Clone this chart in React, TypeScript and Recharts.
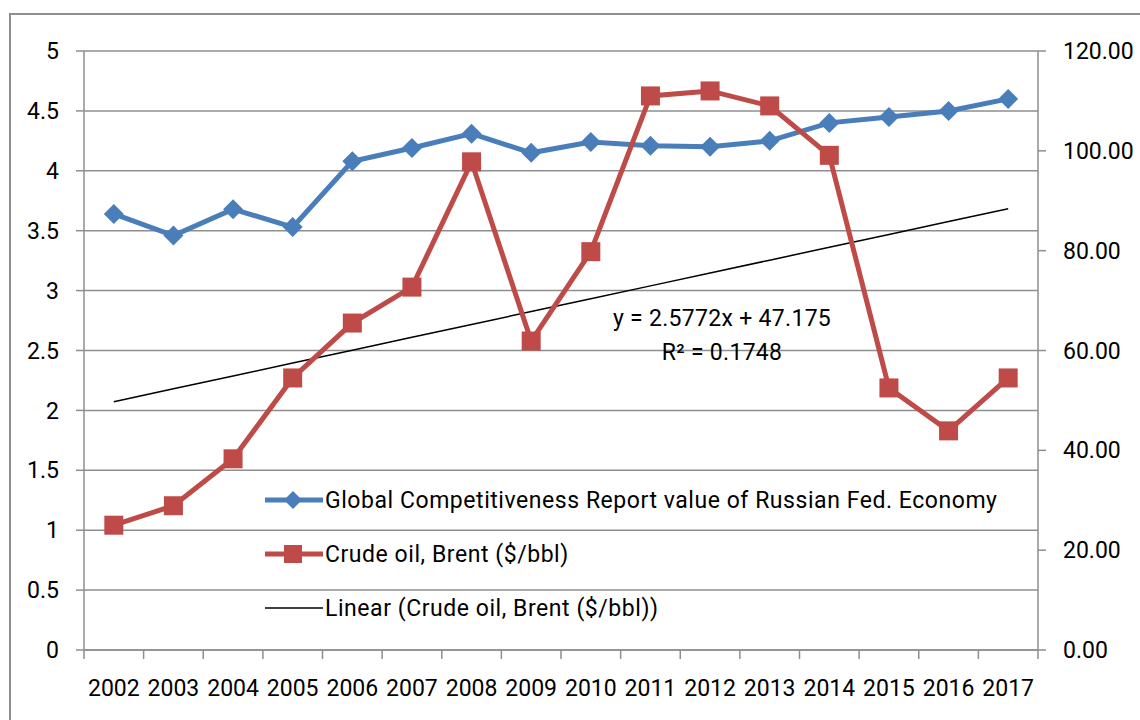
import { CartesianGrid, Line, LineChart, XAxis, YAxis } from "recharts";

const YEARS = ["2002", "2003", "2004", "2005", "2006", "2007", "2008", "2009", "2010", "2011", "2012", "2013", "2014", "2015", "2016", "2017"];
// Global Competitiveness Report value (left axis)
const GCI = [3.64, 3.46, 3.68, 3.53, 4.08, 4.19, 4.31, 4.15, 4.24, 4.21, 4.2, 4.25, 4.4, 4.45, 4.5, 4.6];
// Crude oil, Brent $/bbl (right axis)
const BRENT = [25.0, 28.9, 38.3, 54.5, 65.5, 72.7, 97.8, 61.9, 79.8, 111.0, 112.0, 109.0, 99.1, 52.5, 43.9, 54.5];
// trendline as printed on the chart
const TREND_SLOPE = 2.5772;
const TREND_INTERCEPT = 47.175;
const LEFT_TICKS = [0, 0.5, 1, 1.5, 2, 2.5, 3, 3.5, 4, 4.5, 5];
const RIGHT_TICKS = [0, 20, 40, 60, 80, 100, 120];

const BLUE = "#4a7ebb";
const RED = "#be4b48";
const GRID = "#8e8e8e";
const FONT = "Roboto, 'Open Sans', sans-serif";
const FS = 23;

const data = YEARS.map((year, i) => ({
  year,
  pos: i + 0.5,
  gci: GCI[i],
  brent: BRENT[i],
  trend: TREND_INTERCEPT + TREND_SLOPE * (i + 1),
}));
const X_TICKS = YEARS.map((_, i) => i).concat([YEARS.length]);

// recharts overrides r/fill on cloned dots, so use own prop names
function Diamond({ cx, cy, half = 10 }: any) {
  if (cx == null || cy == null) return null;
  return <polygon points={`${cx},${cy - half} ${cx + half},${cy} ${cx},${cy + half} ${cx - half},${cy}`} fill={BLUE} />;
}

function Square({ cx, cy, side = 19 }: any) {
  if (cx == null || cy == null) return null;
  return <rect x={cx - side / 2} y={cy - side / 2} width={side} height={side} fill={RED} />;
}

function YearTick({ x, y, payload, width }: any) {
  const i = payload.value;
  if (i >= YEARS.length) return null;
  const step = (width || 954) / YEARS.length;
  return (
    <text x={x + step / 2} y={y + 35} textAnchor="middle" fill="#000" fontSize={FS} fontFamily={FONT}>
      {YEARS[i]}
    </text>
  );
}

const LEGEND = [
  { name: "Global Competitiveness Report value of Russian Fed. Economy", color: BLUE, width: 5, mark: "diamond" },
  { name: "Crude oil, Brent ($/bbl)", color: RED, width: 5, mark: "square" },
  { name: "Linear (Crude oil, Brent ($/bbl))", color: "#000", width: 1.5, mark: "none" },
];

function LegendBox() {
  return (
    <div
      style={{
        position: "absolute",
        left: 264,
        top: 473,
        fontFamily: FONT,
        fontSize: FS,
        letterSpacing: 0.55,
        color: "#000",
      }}
    >
      {LEGEND.map((l) => (
        <div key={l.name} style={{ display: "flex", alignItems: "center", height: 54, whiteSpace: "nowrap" }}>
          <svg width={60} height={24} style={{ marginRight: 1 }}>
            <line x1={1} x2={59} y1={12} y2={12} stroke={l.color} strokeWidth={l.width} />
            {l.mark === "diamond" && <Diamond cx={29} cy={12} half={9} />}
            {l.mark === "square" && <Square cx={29} cy={12} side={18} />}
          </svg>
          <span>{l.name}</span>
        </div>
      ))}
    </div>
  );
}

export default function App() {
  return (
    <div style={{ position: "absolute", left: 0, top: 0, width: 1140, height: 720, overflow: "hidden", background: "#fff" }}>
      <div style={{ position: "absolute", left: 9, top: 13, width: 1300, height: 900, border: `2px solid ${GRID}` }} />
      <LineChart
        width={1140}
        height={720}
        data={data}
        margin={{ top: 51, right: 12, bottom: 20, left: 14 }}
        style={{ position: "absolute", left: 0, top: 0 }}
      >
        <CartesianGrid yAxisId="left" xAxisId="x" vertical={false} stroke={GRID} strokeWidth={1.5} />
        <XAxis
          xAxisId="x"
          type="number"
          dataKey="pos"
          domain={[0, YEARS.length]}
          ticks={X_TICKS}
          interval={0}
          height={50}
          tick={<YearTick />}
          tickSize={9}
          tickLine={{ stroke: GRID, strokeWidth: 1.5 }}
          axisLine={{ stroke: GRID, strokeWidth: 1.5 }}
          allowDataOverflow
        />
        <YAxis
          yAxisId="left"
          domain={[0, 5]}
          ticks={LEFT_TICKS}
          interval={0}
          width={70}
          tickSize={8}
          tickMargin={17}
          tick={{ fill: "#000", fontSize: FS, fontFamily: FONT }}
          tickLine={{ stroke: GRID, strokeWidth: 1.5 }}
          axisLine={{ stroke: GRID, strokeWidth: 1.5 }}
        />
        <YAxis
          yAxisId="right"
          orientation="right"
          domain={[0, 120]}
          ticks={RIGHT_TICKS}
          interval={0}
          width={90}
          tickSize={8}
          tickMargin={17}
          tickFormatter={(v: number) => v.toFixed(2)}
          tick={{ fill: "#000", fontSize: FS, fontFamily: FONT }}
          tickLine={{ stroke: GRID, strokeWidth: 1.5 }}
          axisLine={{ stroke: GRID, strokeWidth: 1.5 }}
        />
        <Line
          xAxisId="x"
          yAxisId="right"
          dataKey="trend"
          stroke="#000"
          strokeWidth={1.5}
          dot={false}
          isAnimationActive={false}
        />
        <Line
          xAxisId="x"
          yAxisId="left"
          dataKey="gci"
          stroke={BLUE}
          strokeWidth={5}
          dot={<Diamond />}
          isAnimationActive={false}
        />
        <Line
          xAxisId="x"
          yAxisId="right"
          dataKey="brent"
          stroke={RED}
          strokeWidth={5}
          dot={<Square />}
          isAnimationActive={false}
        />
        <text x={722} y={326} textAnchor="middle" fontSize={FS} fontFamily={FONT} letterSpacing={0.3} fill="#000">
          y = 2.5772x + 47.175
        </text>
        <text x={722} y={360} textAnchor="middle" fontSize={FS} fontFamily={FONT} letterSpacing={0.3} fill="#000">
          R² = 0.1748
        </text>
      </LineChart>
      <LegendBox />
    </div>
  );
}
